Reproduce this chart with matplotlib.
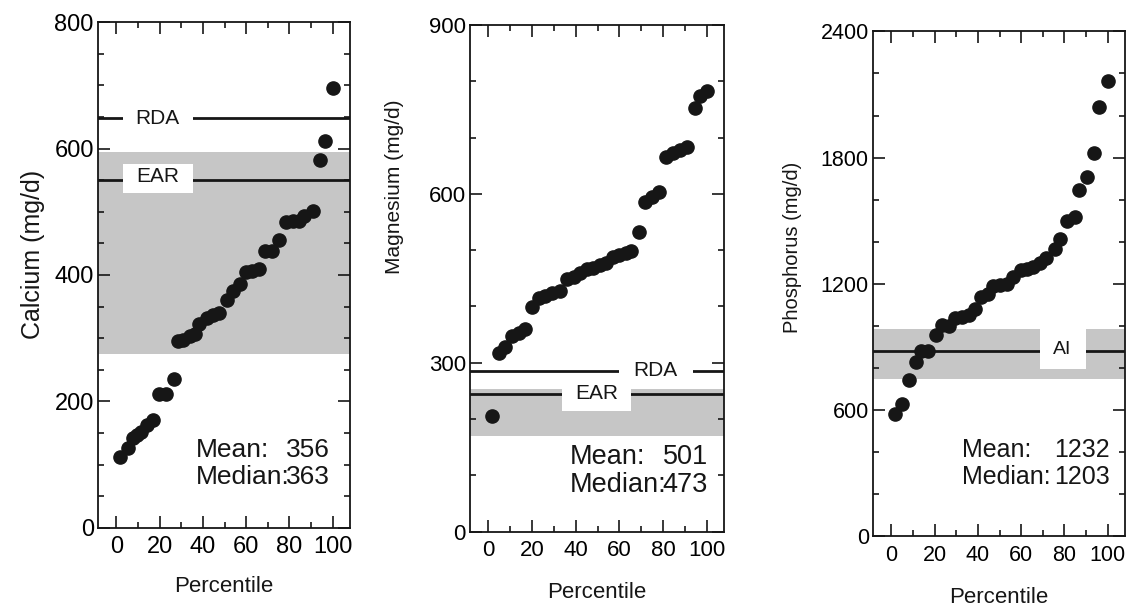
import matplotlib
matplotlib.use("Agg")
import matplotlib.pyplot as plt
from matplotlib.patches import Rectangle
from matplotlib.ticker import MultipleLocator

plt.rcParams['font.family'] = ['Liberation Sans', 'DejaVu Sans']

# percentile of each subject and the daily intake
calcium_pct = [1.8, 5.2, 7.7, 9.5, 11.4, 14, 17, 19.8, 23, 26.4, 28.7, 31, 33.8, 36.4, 38, 41.8, 44.5, 47.5,
               51, 54, 57, 59.8, 62.5, 66, 68.7, 72, 75, 78.3, 81.5, 84.5, 86.7, 90.7, 94, 96.6, 100]
calcium = [112, 127, 142, 147, 151, 163, 170, 212, 212, 236, 295, 298, 303, 306, 323, 332, 336, 340,
           361, 374, 385, 404, 407, 409, 438, 438, 456, 484, 485, 486, 493, 501, 582, 612, 696]

magnesium_pct = [1.5, 4.6, 7.7, 10.8, 13.8, 16.9, 20, 23, 26, 29, 33, 36, 39, 42, 45, 48, 51, 53.8,
                 57, 60, 63, 65.4, 69, 72, 75, 78, 81.5, 84.6, 87.7, 91, 94.6, 97.2, 100]
magnesium = [205, 318, 328, 347, 353, 360, 399, 415, 419, 424, 427, 449, 453, 459, 466, 468, 473, 477,
             488, 492, 495, 499, 533, 585, 595, 603, 666, 673, 678, 684, 753, 774, 782]

phosphorus_pct = [1.7, 5, 8.1, 11.2, 13.9, 17, 20.4, 23.4, 26.5, 29.5, 32.6, 35.7, 38.7, 41.3, 44.8, 47.1,
                  50.2, 53.3, 56.3, 59.9, 62.9, 65.5, 68.6, 71.6, 75.5, 78.1, 81.1, 84.7, 86.7, 90.5,
                  93.9, 95.9, 100]
phosphorus = [584, 629, 744, 827, 882, 882, 959, 1006, 1001, 1036, 1044, 1054, 1081, 1136, 1152, 1192,
              1195, 1200, 1232, 1267, 1271, 1279, 1298, 1324, 1367, 1414, 1501, 1517, 1648, 1708,
              1822, 2041, 2163]

# reference intakes (mg/d) and the grey ranges
calcium_rda, calcium_ear, calcium_band = 648, 550, (275, 594)
magnesium_rda, magnesium_ear, magnesium_band = 285, 245, (169, 254)
phosphorus_ai, phosphorus_band = 882, (748, 986)

stats = {
    'Calcium': ('356', '363'),
    'Magnesium': ('501', '473'),
    'Phosphorus': ('1232', '1203'),
}

BAND = '#c6c6c6'
INK = '#161616'


def setup_axes(ax, ymax, major, minor, tick_size):
    ax.set_xlim(-8.5, 108)
    ax.set_ylim(0, ymax)
    ax.xaxis.set_major_locator(MultipleLocator(20))
    ax.xaxis.set_minor_locator(MultipleLocator(10))
    ax.yaxis.set_major_locator(MultipleLocator(major))
    ax.yaxis.set_minor_locator(MultipleLocator(minor))
    ax.tick_params(which='both', direction='in', top=True, right=True, width=1.2, color=INK)
    ax.tick_params(which='major', length=8.5)
    ax.tick_params(which='minor', length=4.5)
    ax.tick_params(axis='x', labelsize=tick_size, pad=6)
    ax.tick_params(axis='y', labelsize=tick_size, pad=3)
    for s in ax.spines.values():
        s.set_linewidth(1.3)
        s.set_color(INK)


def ref_line(ax, y, label, box, text_xy, size):
    ax.axhline(y, color=INK, lw=2, zorder=2)
    x0, x1, y0, y1 = box
    ax.add_patch(Rectangle((x0, y0), x1 - x0, y1 - y0, facecolor='white', edgecolor='none', zorder=3))
    ax.text(text_xy[0], text_xy[1], label, ha='center', va='center', fontsize=size, color=INK, zorder=4)


def add_stats(ax, name, left, right, y1, y2, size):
    mean, median = stats[name]
    ax.text(left, y1, 'Mean:', transform=ax.transAxes, ha='left', va='center', fontsize=size, color=INK)
    ax.text(right, y1, mean, transform=ax.transAxes, ha='right', va='center', fontsize=size, color=INK)
    ax.text(left, y2, 'Median:', transform=ax.transAxes, ha='left', va='center', fontsize=size, color=INK)
    ax.text(right, y2, median, transform=ax.transAxes, ha='right', va='center', fontsize=size, color=INK)


def labels(ax, ylabel, yl_x, yl_y, yl_size, xl_y):
    ax.text(yl_x, yl_y, ylabel, transform=ax.transAxes, rotation=90, ha='center', va='center',
            fontsize=yl_size, color=INK)
    ax.text(0.5, xl_y, 'Percentile', transform=ax.transAxes, ha='center', va='center',
            fontsize=16, color=INK)


fig = plt.figure(figsize=(11.36, 6.08), dpi=100)
ax1 = fig.add_axes([0.0863, 0.1316, 0.2218, 0.8322])
ax2 = fig.add_axes([0.4137, 0.1258, 0.2236, 0.8331])
ax3 = fig.add_axes([0.7685, 0.1176, 0.2218, 0.8309])

# calcium
setup_axes(ax1, 800, 200, 50, 17)
ax1.axhspan(*calcium_band, color=BAND, lw=0, zorder=1)
ref_line(ax1, calcium_rda, 'RDA', (2.9, 35.2, 625, 672), (19, 648), 15)
ref_line(ax1, calcium_ear, 'EAR', (2.9, 35.2, 529, 575), (19, 556), 15)
ax1.plot(calcium_pct, calcium, 'o', color=INK, markersize=9.5, zorder=5)
add_stats(ax1, 'Calcium', 0.389, 0.921, 0.154, 0.101, 19)
labels(ax1, 'Calcium (mg/d)', -0.258, 0.541, 18, -0.115)

# magnesium
setup_axes(ax2, 900, 300, 100, 16)
ax2.axhspan(*magnesium_band, color=BAND, lw=0, zorder=1)
ref_line(ax2, magnesium_rda, 'RDA', (59.7, 93.8, 272, 298), (76.7, 286), 15)
ref_line(ax2, magnesium_ear, 'EAR', (33.8, 65.4, 215, 267), (49.6, 246), 15)
ax2.plot(magnesium_pct, magnesium, 'o', color=INK, markersize=9.5, zorder=5)
add_stats(ax2, 'Magnesium', 0.394, 0.937, 0.147, 0.092, 19.5)
labels(ax2, 'Magnesium (mg/d)', -0.299, 0.680, 15, -0.120)

# phosphorus
setup_axes(ax3, 2400, 600, 200, 15.5)
ax3.axhspan(*phosphorus_band, color=BAND, lw=0, zorder=1)
ref_line(ax3, phosphorus_ai, 'AI', (68.6, 90, 795, 986), (79, 890), 14)
ax3.plot(phosphorus_pct, phosphorus, 'o', color=INK, markersize=9.5, zorder=5)
add_stats(ax3, 'Phosphorus', 0.352, 0.940, 0.172, 0.118, 18)
labels(ax3, 'Phosphorus (mg/d)', -0.321, 0.573, 14.5, -0.120)

fig.savefig('out.png', dpi=100, facecolor='white')
